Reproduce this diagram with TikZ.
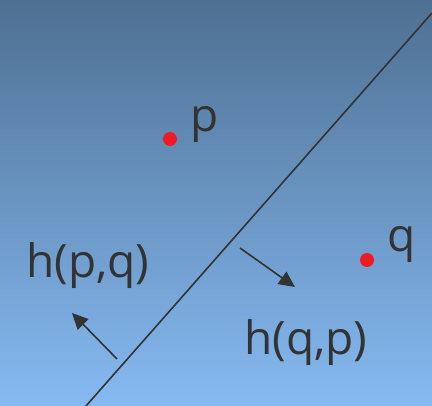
\documentclass[tikz,border=0pt]{standalone}
\usepackage{xcolor}
\usepackage{fontspec}
\setmainfont{Open Sans}
\usepackage{tikz}
\usetikzlibrary{arrows.meta,positioning,calc}

\definecolor{bgtop}{RGB}{78,112,146}
\definecolor{bgbot}{RGB}{134,186,242}
\definecolor{ink}{RGB}{51,51,51}
\definecolor{ptred}{RGB}{237,28,36}

\begin{document}
\begin{tikzpicture}[>={Triangle[length=16pt,width=15pt]},x=1pt,y=-1pt,
  every node/.style={font=\fontsize{46}{50}\selectfont,text=ink,inner sep=0pt},
  site/.style={circle,fill=ptred,minimum size=14pt,inner sep=0pt}]
  \shade[top color=bgtop,bottom color=bgbot] (0,0) rectangle (432,406);
  \useasboundingbox (0,0) rectangle (432,406);
  % sites
  \node[site] (p) at (170,139) {};
  \node[site] (q) at (367,260) {};
  \node[anchor=base west] (plab) at (190,132) {p};
  \node[anchor=base west] (qlab) at (387,252) {q};
  % bisector
  \coordinate (b1) at (86,406);
  \coordinate (b2) at (432,13);
  \draw[ink,line width=1.6pt] (b1) -- (b2);
  % half-planes
  \node[anchor=base west] (hpq) at (26,278) {h(p,q)};
  \node[anchor=base west] (hqp) at (244,355) {h(q,p)};
  \coordinate (a1) at (117,359);
  \coordinate (a1t) at (72,313);
  \coordinate (a2) at (240,248);
  \coordinate (a2t) at (295,287);
  \draw[->,ink,line width=1.6pt] (a1) -- (a1t);
  \draw[->,ink,line width=1.6pt] (a2) -- (a2t);
\end{tikzpicture}
\end{document}
